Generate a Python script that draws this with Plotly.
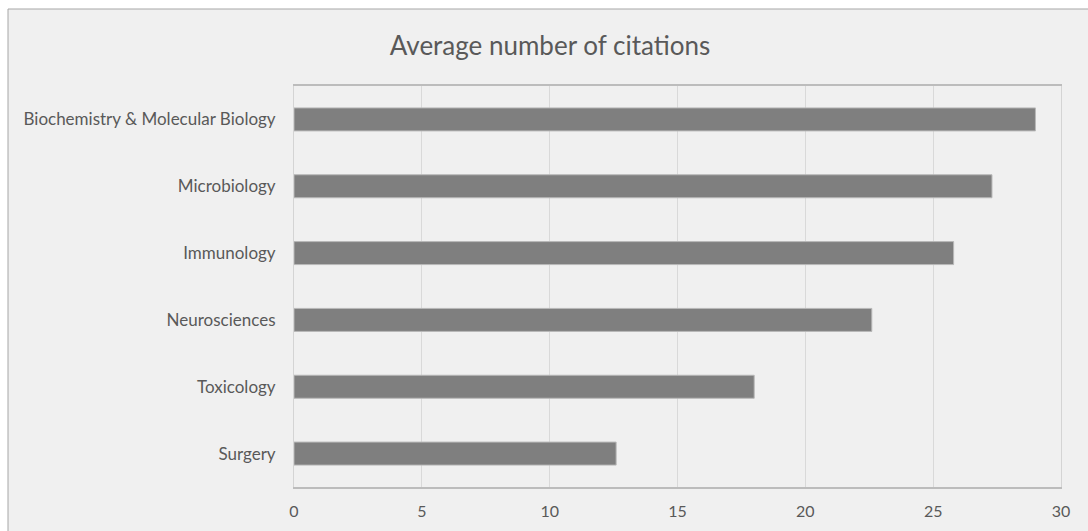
import plotly.graph_objects as go

categories = ["Biochemistry & Molecular Biology", "Microbiology", "Immunology",
              "Neurosciences", "Toxicology", "Surgery"]
values = [29.0, 27.3, 25.8, 22.6, 18.0, 12.6]
x_ticks = [0, 5, 10, 15, 20, 25, 30]

W, H = 1088, 531
L, R, T, B = 294, 27, 86, 44
pw = W - L - R
ph = H - T - B

fig = go.Figure(go.Bar(
    x=values, y=categories, orientation="h",
    marker=dict(color="#7f7f7f", line=dict(color="#b8b8b8", width=1)),
    hoverinfo="x+y",
))

txt = "#595959"
fig.update_layout(
    width=W, height=H,
    margin=dict(l=L, r=R, t=T, b=B, pad=0, autoexpand=False),
    paper_bgcolor="white",
    plot_bgcolor="#f0f0f0",
    font=dict(family="Lato, Open Sans, sans-serif", color=txt, size=17),
    title=dict(text="Average number of citations", x=(550 - L) / pw, xref="paper",
               xanchor="center", y=1 - 46 / H, yanchor="middle",
               font=dict(size=26, color=txt)),
    bargap=0.656,
    showlegend=False,
    shapes=[dict(type="rect", xref="paper", yref="paper",
                 x0=(8 - L) / pw, x1=(W + 20 - L) / pw,
                 y0=-(B + 20) / ph, y1=(H - 9 - B) / ph,
                 fillcolor="#f0f0f0", line=dict(color="#a6a6a6", width=1),
                 layer="below")],
)
fig.update_xaxes(range=[0, 30], tickvals=x_ticks, showgrid=True, gridcolor="#d9d9d9",
                 gridwidth=1, zeroline=False, showline=True, mirror=True,
                 linecolor="#bcbcbc", linewidth=1.5, ticks="", ticklabelstandoff=9,
                 tickfont=dict(size=16, color=txt), fixedrange=True, automargin=False)
fig.update_yaxes(categoryorder="array", categoryarray=categories[::-1],
                 showgrid=False, zeroline=False, showline=True, mirror=True,
                 linecolor="#d4d4d4", linewidth=1, ticks="", ticklabelstandoff=14,
                 tickfont=dict(size=17, color=txt), fixedrange=True, automargin=False)

fig.write_html("out.html")
